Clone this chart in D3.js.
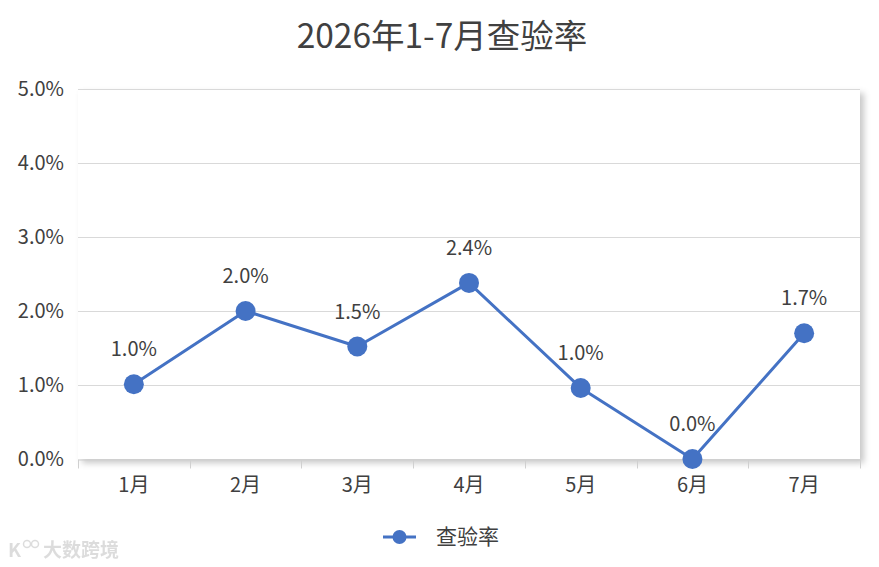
<!DOCTYPE html>
<html>
<head>
<meta charset="utf-8">
<script src="https://cdn.jsdelivr.net/npm/d3@7"></script>
<style>
  body { margin: 0; background: #fff; }
  text { font-family: "Noto Sans CJK SC", "Noto Sans", sans-serif; }
</style>
</head>
<body>
<div class="mainContainer"></div>
<script>
var months = ['1月', '2月', '3月', '4月', '5月', '6月', '7月'];
var rates = [0.0101, 0.0200, 0.0152, 0.0238, 0.0096, 0.0000, 0.0170];
var yTicks = [0, 0.01, 0.02, 0.03, 0.04, 0.05];
var seriesName = '查验率';
var title = '2026年1-7月查验率';

var width = 879, height = 567;
var plotL = 78, plotR = 860, plotT = 89, plotB = 459;
var blue = '#4472c4';

var svg = d3.select('.mainContainer').append('svg')
	.attr('width', width).attr('height', height);

var defs = svg.append('defs');
var f = defs.append('filter').attr('id', 'shadow')
	.attr('x', '-5%').attr('y', '-5%').attr('width', '115%').attr('height', '115%');
f.append('feDropShadow').attr('dx', 4).attr('dy', 4).attr('stdDeviation', 3)
	.attr('flood-color', '#000').attr('flood-opacity', 0.22);

var x = d3.scaleBand().domain(months).range([plotL, plotR]);
var y = d3.scaleLinear().domain([0, 0.05]).range([plotB, plotT]);

// title
svg.append('text').attr('x', 442).attr('y', 48)
	.attr('text-anchor', 'middle').style('font-size', '33.5px').style('fill', '#404040')
	.text(title);

// plot area with shadow
svg.append('rect').attr('x', plotL).attr('y', plotT)
	.attr('width', plotR - plotL).attr('height', plotB - plotT)
	.style('fill', '#fff').attr('filter', 'url(#shadow)');

// gridlines
svg.append('g').selectAll('line').data(yTicks.slice(1)).enter().append('line')
	.attr('x1', plotL).attr('x2', plotR)
	.attr('y1', function(d) { return Math.round(y(d)) + 0.5; })
	.attr('y2', function(d) { return Math.round(y(d)) + 0.5; })
	.style('stroke', '#d9d9d9').style('stroke-width', 1);

// y labels
svg.append('g').selectAll('text').data(yTicks).enter().append('text')
	.attr('x', 64).attr('y', function(d) { return y(d) + 7; })
	.attr('text-anchor', 'end').style('font-size', '20px').style('fill', '#404040')
	.text(function(d) { return (d * 100).toFixed(1) + '%'; });

// x axis
var xAxis = d3.axisBottom(x).tickSize(0).tickPadding(0);
var gx = svg.append('g').attr('transform', 'translate(0,' + (plotB + 0.5) + ')').call(xAxis);
gx.select('.domain').style('stroke', '#d0d0d0');
gx.selectAll('.tick text').attr('y', 18).style('font-size', '20px').style('fill', '#404040')
	.style('font-family', '"Noto Sans CJK SC", sans-serif');
var bounds = months.map(function(m) { return x(m); }).concat([plotR]);
gx.selectAll('line.sep').data(bounds).enter().append('line').attr('class', 'sep')
	.attr('x1', function(d) { return Math.round(d) + 0.5; })
	.attr('x2', function(d) { return Math.round(d) + 0.5; })
	.attr('y1', 0).attr('y2', 9).style('stroke', '#d0d0d0');

// line
var cx = function(d, i) { return x(months[i]) + x.bandwidth() / 2; };
var line = d3.line().x(cx).y(function(d) { return y(d); });
svg.append('path').datum(rates).attr('d', line)
	.style('fill', 'none').style('stroke', blue).style('stroke-width', 3).style('stroke-linejoin', 'round');

svg.append('g').selectAll('circle').data(rates).enter().append('circle')
	.attr('cx', cx).attr('cy', function(d) { return y(d); }).attr('r', 10)
	.style('fill', blue);

svg.append('g').selectAll('text').data(rates).enter().append('text')
	.attr('x', cx).attr('y', function(d) { return y(d) - 28; })
	.attr('text-anchor', 'middle').style('font-size', '20px').style('fill', '#404040')
	.text(function(d) { return (d * 100).toFixed(1) + '%'; });

// legend
var lg = svg.append('g').attr('transform', 'translate(383,537)');
lg.append('line').attr('x1', 0).attr('x2', 33).style('stroke', blue).style('stroke-width', 3);
lg.append('circle').attr('cx', 16.5).attr('r', 7).style('fill', blue);
lg.append('text').attr('x', 53).attr('y', 7).style('font-size', '21px').style('fill', '#404040').text(seriesName);

// watermark
var wm = svg.append('g').attr('transform', 'translate(8,549)').style('opacity', 0.5);
wm.append('text').attr('x', 0).attr('y', 8).style('font-size', '19px').style('fill', '#bbb')
	.style('font-weight', 'bold').text('K');
wm.append('circle').attr('cx', 19).attr('cy', -5).attr('r', 3.5).style('fill', 'none').style('stroke', '#bbb').style('stroke-width', 1.5);
wm.append('circle').attr('cx', 27).attr('cy', -5).attr('r', 3.5).style('fill', 'none').style('stroke', '#bbb').style('stroke-width', 1.5);
wm.append('text').attr('x', 35).attr('y', 8).style('font-size', '19px').style('fill', '#bbb')
	.style('font-weight', 'bold').text('大数跨境');
</script>
</body>
</html>
